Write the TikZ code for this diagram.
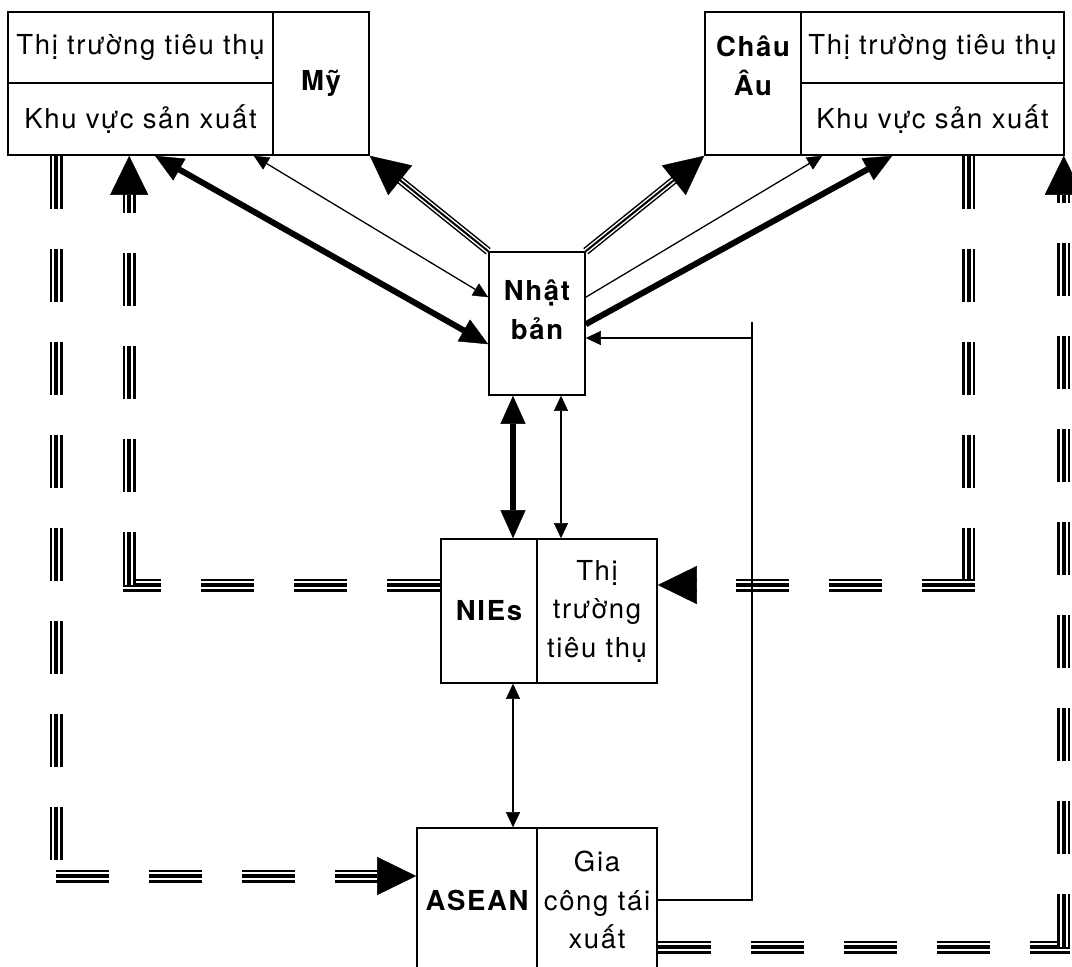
\documentclass[tikz,border=0pt]{standalone}
\usepackage{fontspec}
\setmainfont{TeX Gyre Heros}[LetterSpace=6]
\usetikzlibrary{arrows.meta,calc}

\begin{document}
\begin{tikzpicture}[x=1pt,y=-1pt,
  txt/.style={font=\fontsize{27.5}{38.5}\selectfont, align=center, inner sep=0pt},
  cell/.style={txt, draw, line width=1.6pt, fill=white},
  plain/.style={line width=1.3pt},
  thinarr/.style={line width=1.3pt, -{Triangle[length=15pt,width=14pt,line width=0.4pt]}},
  thinboth/.style={line width=1.3pt, {Triangle[length=15pt,width=14pt,line width=0.4pt]}-{Triangle[length=15pt,width=14pt,line width=0.4pt]}},
  thickarr/.style={line width=6pt, -{Triangle[length=28pt,width=25pt,line width=0.4pt]}},
  thickboth/.style={line width=6pt, {Triangle[length=28pt,width=25pt,line width=0.4pt]}-{Triangle[length=28pt,width=25pt,line width=0.4pt]}},
  bigtip/.style={-{Triangle[length=39pt,width=38pt,line width=0.4pt]}},
  % three parallel solid strokes, ending in a large head
  trisolid/.style={bigtip, line width=2pt,
    preaction={draw, -, line width=8pt, shorten >=38pt},
    preaction={draw=white, -, line width=5pt, shorten >=38pt}},
  % three parallel dashed strokes
  tridash/.style={line width=4.5pt, dash pattern=on 53pt off 40pt,
    preaction={draw, line width=13pt, dash pattern=on 53pt off 40pt},
    preaction={draw=white, line width=8.5pt, dash pattern=on 53pt off 40pt}},
  % the same, ending in a large head
  tridasharr/.style={bigtip, line width=4.5pt, dash pattern=on 53pt off 40pt,
    preaction={draw, -, line width=13pt, dash pattern=on 53pt off 40pt, shorten >=38pt},
    preaction={draw=white, -, line width=8.5pt, dash pattern=on 53pt off 40pt, shorten >=38pt}},
]
\useasboundingbox (0,0) rectangle (1072,967);

% Mỹ
\node[cell, minimum width=265pt, minimum height=71pt] (mytt) at (140.5,47.5) {Thị trường tiêu thụ};
\node[cell, minimum width=265pt, minimum height=72pt] (mykv) at (140.5,119) {Khu vực sản xuất};
\node[cell, minimum width=96pt, minimum height=143pt] (myname) at (321,83.5) {\bfseries Mỹ};

% Châu Âu
\node[cell, minimum width=96pt, minimum height=143pt] (euname) at (753,83.5) {};
\node[txt, font=\fontsize{27.5}{38.5}\selectfont\bfseries] (eutext) at (753,66) {Châu\\Âu};
\node[cell, minimum width=263pt, minimum height=71pt] (eutt) at (932.5,47.5) {Thị trường tiêu thụ};
\node[cell, minimum width=263pt, minimum height=72pt] (eukv) at (932.5,119) {Khu vực sản xuất};

% Nhật bản
\node[cell, minimum width=96pt, minimum height=143pt] (nhat) at (537,323.5) {};
\node[txt, font=\fontsize{27.5}{38.5}\selectfont\bfseries] (nhattext) at (537,310) {Nhật\\bản};

% NIEs
\node[cell, minimum width=96pt, minimum height=144pt] (niesname) at (489,611) {\bfseries NIEs};
\node[cell, minimum width=120pt, minimum height=144pt] (niesmkt) at (597,611) {Thị\\trường\\tiêu thụ};

% ASEAN
\node[cell, minimum width=120pt, minimum height=144pt] (aseanname) at (477,900) {\bfseries ASEAN};
\node[cell, minimum width=120pt, minimum height=144pt] (gia) at (597,900) {Gia\\công tái\\xuất};

% links between Nhật bản and Mỹ
\draw[thinboth] ($(mykv.south east)+(-20,0)$) -- ($(nhat.north west)+(0,46)$);
\draw[thickboth] ($(mykv.south)+(14.5,0)$) -- ($(nhat.north west)+(0,93)$);
\draw[trisolid] (nhat.north west) -- (myname.south east);

% links between Nhật bản and Châu Âu
\draw[trisolid] (nhat.north east) -- (euname.south west);
\draw[thinarr] ($(nhat.north east)+(0,46)$) -- ($(eukv.south west)+(22,0)$);
\draw[thickarr] ($(nhat.north east)+(0,73)$) -- ($(eukv.south west)+(92,0)$);

% vertical links
\draw[thickboth] ($(nhat.south)+(-24,0)$) -- ($(niesname.north)+(24,0)$);
\draw[thinboth] ($(nhat.south)+(24,0)$) -- ($(niesmkt.north)+(-36,0)$);
\draw[thinboth] ($(niesname.south)+(24,0)$) -- ($(aseanname.north)+(36,0)$);

% dashed triple flows, each leg dashed from its own start
% Mỹ -> ASEAN
\coordinate (lotop) at ($(mykv.south west)+(49,0)$);
\coordinate (loend) at ($(aseanname.west)+(0,-24)$);
\coordinate (locorner) at (lotop |- loend);
\draw[tridash] (lotop) -- (locorner);
\draw[tridasharr] (locorner) -- (loend);
% NIEs -> Mỹ
\coordinate (listart) at ($(niesname.west)+(0,-26)$);
\coordinate (liend) at ($(mykv.south west)+(122,0)$);
\coordinate (licorner) at (liend |- listart);
\draw[tridash] (listart) -- ($(licorner)+(-6.5,0)$);
\draw[tridasharr] (licorner) -- (liend);
% Châu Âu -> NIEs
\coordinate (ritop) at ($(eukv.south east)+(-96,0)$);
\coordinate (riend) at ($(niesmkt.east)+(0,-26)$);
\coordinate (ricorner) at (ritop |- riend);
\draw[tridash] (ritop) -- (ricorner);
\draw[tridasharr] ($(ricorner)+(6.5,0)$) -- (riend);
% ASEAN -> Châu Âu
\coordinate (rostart) at ($(gia.east)+(0,47)$);
\coordinate (roend) at ($(eukv.south east)+(-1,0)$);
\coordinate (rocorner) at (roend |- rostart);
\draw[tridash] (rostart) -- ($(rocorner)+(6.5,0)$);
\draw[tridasharr] (rocorner) -- (roend);

% re-export back to Nhật bản, drawn over the dashed flows
\coordinate (fbtop) at (752,322);
\coordinate (fbturn) at (752,338);
\draw[plain] (gia.east) -| (fbtop);
\draw[thinarr] (fbturn) -- (nhat.east |- fbturn);
\end{tikzpicture}
\end{document}
